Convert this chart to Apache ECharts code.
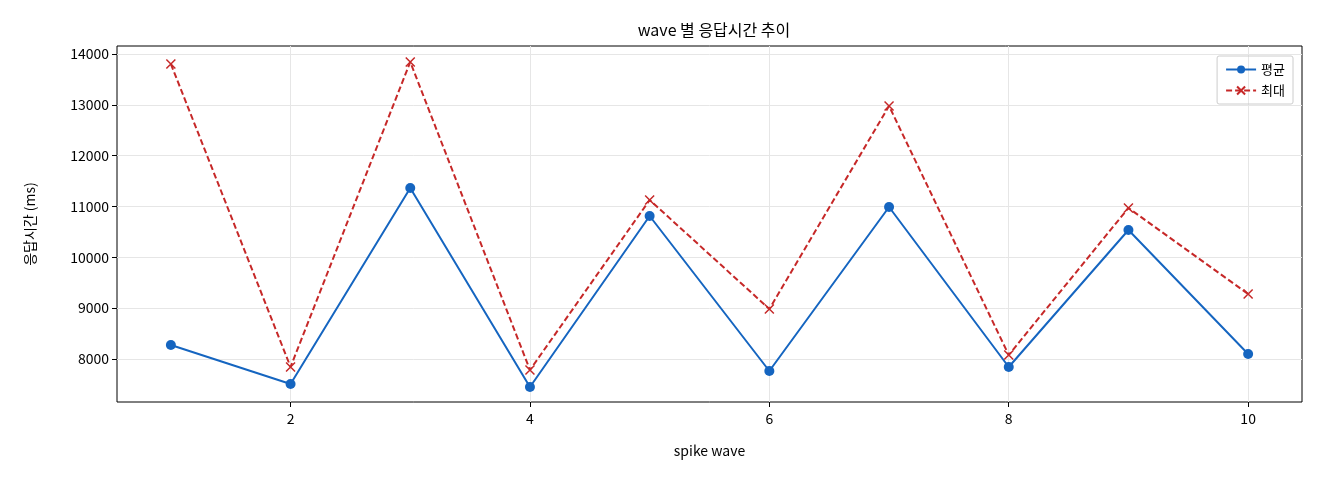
<!DOCTYPE html>
<html><head><meta charset="utf-8">
<script src="https://cdn.jsdelivr.net/npm/echarts@6/dist/echarts.min.js"></script>
<style>html,body{margin:0;padding:0;background:#fff}#c{width:1320px;height:480px}</style>
</head><body><div id="c"></div>
<script>
const waves = [1,2,3,4,5,6,7,8,9,10];
const avgValues = [8275,7508,11364,7449,10813,7764,10990,7843,10538,8098];
const maxValues = [13804,7843,13843,7784,11128,8984,12977,8079,10971,9279];
const xTicks = [2,4,6,8,10];
const yTicks = [8000,9000,10000,11000,12000,13000,14000];
const F = '"Noto Sans CJK KR", "DejaVu Sans", sans-serif';
const chart = echarts.init(document.getElementById('c'));
chart.setOption({
  animation:false,
  title:{text:'wave 별 응답시간 추이',left:709,top:17,textAlign:'center',textStyle:{fontFamily:F,fontSize:16,fontWeight:'normal',color:'#000'}},
  legend:{right:27,top:56,orient:'vertical',itemGap:8,padding:[7,8],borderColor:'#ccc',borderWidth:1,borderRadius:2,
    textStyle:{fontFamily:F,fontSize:13,color:'#000'},itemWidth:30,itemHeight:10},
  grid:{left:117,right:18,top:46,bottom:78,show:true,borderColor:'#000',borderWidth:1},
  xAxis:{type:'value',min:0.55,max:10.45,name:'spike wave',nameLocation:'middle',nameGap:42,
    nameTextStyle:{fontFamily:F,fontSize:14,color:'#000'},
    axisLine:{show:false},
    axisTick:{show:true,customValues:xTicks,length:5,lineStyle:{color:'#000'}},
    axisLabel:{customValues:xTicks,fontFamily:F,fontSize:14,color:'#000',margin:10},
    splitLine:{show:true,lineStyle:{color:'#e6e6e6'}}},
  yAxis:{type:'value',min:7154,max:14157,name:'응답시간 (ms)',nameLocation:'middle',nameGap:80,
    nameTextStyle:{fontFamily:F,fontSize:14,color:'#000'},
    axisLine:{show:false},
    axisTick:{show:true,customValues:yTicks,length:5,lineStyle:{color:'#000'}},
    axisLabel:{customValues:yTicks,formatter:v=>String(v),fontFamily:F,fontSize:14,color:'#000'},
    splitLine:{show:true,lineStyle:{color:'#e6e6e6'}}},
  series:[
    {name:'평균',type:'line',data:waves.map((w,i)=>[w,avgValues[i]]),symbol:'circle',symbolSize:10,
     lineStyle:{color:'#1565c0',width:2},itemStyle:{color:'#1565c0'},color:'#1565c0'},
    {name:'최대',type:'line',data:waves.map((w,i)=>[w,maxValues[i]]),
     symbol:'path://M0,0L10,10M10,0L0,10',symbolSize:9,
     lineStyle:{color:'#c62828',width:2,type:[6,3]},itemStyle:{color:'none',borderColor:'#c62828',borderWidth:1.5},color:'#c62828'}
  ]
});
</script></body></html>
